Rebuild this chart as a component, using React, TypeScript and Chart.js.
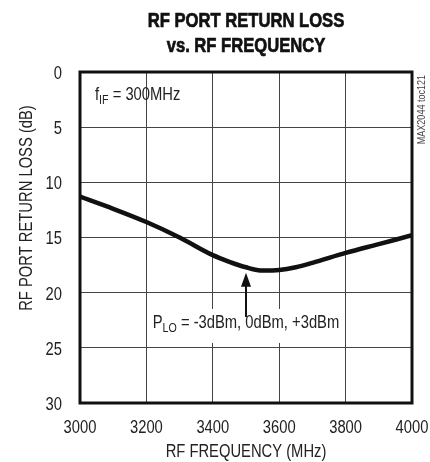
import React, { useEffect, useRef } from "react";
import { Chart, registerables } from "chart.js";

Chart.register(...registerables);

const freqs = [3000, 3100, 3200, 3300, 3400, 3450, 3500, 3550, 3600, 3650, 3700, 3800, 3900, 4000];
const returnLoss = [11.3, 12.4, 13.6, 15.0, 16.6, 17.2, 17.7, 18.0, 17.95, 17.7, 17.3, 16.4, 15.6, 14.8];
const xTicks = [3000, 3200, 3400, 3600, 3800, 4000];
const yTicks = [0, 5, 10, 15, 20, 25, 30];
const titleLines = ["RF PORT RETURN LOSS", "vs. RF FREQUENCY"];
const xTitle = "RF FREQUENCY (MHz)";
const yTitle = "RF PORT RETURN LOSS (dB)";
const arrowFreq = 3500;
const arrowTip = 18.2;
const arrowTail = 22.2;

const FAM = '"Liberation Sans", Arial, sans-serif';
const SX = 0.82;

type Part = { t: string; sub?: boolean };

function partsWidth(ctx: CanvasRenderingContext2D, parts: Part[], size: number) {
  let w = 0;
  for (const p of parts) {
    ctx.font = `${p.sub ? Math.round(size * 0.72) : size}px ${FAM}`;
    w += ctx.measureText(p.t).width;
  }
  return w * SX;
}

function drawParts(
  ctx: CanvasRenderingContext2D,
  parts: Part[],
  x: number,
  y: number,
  size: number,
  align: "left" | "center" | "right"
) {
  const total = partsWidth(ctx, parts, size);
  let cx = align === "center" ? x - total / 2 : align === "right" ? x - total : x;
  ctx.save();
  ctx.textAlign = "left";
  ctx.textBaseline = "middle";
  for (const p of parts) {
    ctx.font = `${p.sub ? Math.round(size * 0.72) : size}px ${FAM}`;
    ctx.save();
    ctx.translate(cx, p.sub ? y + size * 0.28 : y);
    ctx.scale(SX, 1);
    ctx.fillText(p.t, 0, 0);
    ctx.restore();
    cx += ctx.measureText(p.t).width * SX;
  }
  ctx.restore();
  return total;
}

const decorPlugin = {
  id: "decor",
  beforeDatasetsDraw(chart: any) {
    const ctx = chart.ctx as CanvasRenderingContext2D;
    const xs = chart.scales.x;
    const ys = chart.scales.y;
    const cx = xs.getPixelForValue(arrowFreq);
    const ty = ys.getPixelForValue(arrowTail) + 6;
    const parts: Part[] = [{ t: "P" }, { t: "LO", sub: true }, { t: " = -3dBm, 0dBm, +3dBm" }];
    ctx.save();
    const total = partsWidth(ctx, parts, 18);
    ctx.fillStyle = "#fff";
    ctx.fillRect(cx - total / 2 - 4, ty - 14, total + 8, 34);
    ctx.fillStyle = "#222";
    drawParts(ctx, parts, cx, ty, 18, "center");
    ctx.restore();
  },
  afterDraw(chart: any) {
    const ctx = chart.ctx as CanvasRenderingContext2D;
    const a = chart.chartArea;
    const xs = chart.scales.x;
    const ys = chart.scales.y;
    ctx.save();
    // frame
    ctx.strokeStyle = "#111";
    ctx.lineWidth = 3;
    ctx.strokeRect(a.left, a.top, a.right - a.left, a.bottom - a.top);

    // tick labels from the scales
    ctx.fillStyle = "#222";
    for (const t of xs.ticks) {
      drawParts(ctx, [{ t: String(t.value) }], xs.getPixelForValue(t.value), a.bottom + 25, 18, "center");
    }
    for (const t of ys.ticks) {
      drawParts(ctx, [{ t: String(t.value) }], a.left - 18, ys.getPixelForValue(t.value) + 2, 18, "right");
    }

    // title
    const tc = (a.left + a.right) / 2;
    ctx.fillStyle = "#111";
    ctx.strokeStyle = "#111";
    ctx.lineWidth = 0.7;
    ctx.textAlign = "center";
    ctx.textBaseline = "middle";
    ctx.font = `bold 20px ${FAM}`;
    titleLines.forEach((line, i) => {
      ctx.save();
      ctx.translate(tc, 21 + i * 25);
      ctx.scale(0.83, 1);
      ctx.fillText(line, 0, 0);
      ctx.strokeText(line, 0, 0);
      ctx.restore();
    });

    // x title
    ctx.fillStyle = "#222";
    drawParts(ctx, [{ t: xTitle }], tc, 452, 18, "center");

    // y title
    ctx.save();
    ctx.translate(27, 208);
    ctx.rotate(-Math.PI / 2);
    drawParts(ctx, [{ t: yTitle }], 0, 0, 18, "center");
    ctx.restore();

    // fIF
    drawParts(ctx, [{ t: "f" }, { t: "IF", sub: true }, { t: " = 300MHz" }], a.left + 15, 95, 18, "left");

    // side code
    ctx.save();
    ctx.translate(a.right + 4, a.top + 3);
    ctx.rotate(-Math.PI / 2);
    ctx.fillStyle = "#444";
    ctx.font = `11px ${FAM}`;
    ctx.textAlign = "right";
    ctx.textBaseline = "top";
    ctx.scale(SX, 1);
    ctx.fillText("MAX2044 toc121", 0, 0);
    ctx.restore();

    // arrow
    const ax = xs.getPixelForValue(arrowFreq);
    const tipY = ys.getPixelForValue(arrowTip);
    const tailY = ys.getPixelForValue(arrowTail);
    ctx.strokeStyle = "#111";
    ctx.lineWidth = 2;
    ctx.beginPath();
    ctx.moveTo(ax, tailY);
    ctx.lineTo(ax, tipY + 12);
    ctx.stroke();
    ctx.fillStyle = "#111";
    ctx.beginPath();
    ctx.moveTo(ax, tipY);
    ctx.lineTo(ax - 5, tipY + 14);
    ctx.lineTo(ax + 5, tipY + 14);
    ctx.closePath();
    ctx.fill();
    ctx.restore();
  },
};

export default function App() {
  const ref = useRef<HTMLCanvasElement>(null);
  useEffect(() => {
    document.body.style.margin = "0";
    const canvas = ref.current!;
    const chart = new Chart(canvas, {
      type: "line",
      data: {
        datasets: [
          {
            data: freqs.map((f, i) => ({ x: f, y: returnLoss[i] })),
            borderColor: "#111",
            borderWidth: 4.5,
            pointRadius: 0,
            tension: 0.4,
            cubicInterpolationMode: "monotone",
            fill: false,
          },
        ],
      },
      options: {
        animation: false,
        responsive: false,
        devicePixelRatio: 1,
        layout: { padding: { top: 72, right: 18, left: 0, bottom: 0 } },
        plugins: { legend: { display: false }, tooltip: { enabled: false }, title: { display: false } },
        scales: {
          x: {
            type: "linear",
            min: 3000,
            max: 4000,
            afterBuildTicks: (s: any) => { s.ticks = xTicks.map((v) => ({ value: v })); },
            afterFit: (s: any) => { s.height = 59; },
            grid: { color: "#444", lineWidth: 1, drawTicks: false },
            border: { display: false },
            ticks: { display: false },
          },
          y: {
            type: "linear",
            reverse: true,
            min: 0,
            max: 30,
            afterBuildTicks: (s: any) => { s.ticks = yTicks.map((v) => ({ value: v })); },
            afterFit: (s: any) => { s.width = 80; },
            grid: { color: "#444", lineWidth: 1, drawTicks: false },
            border: { display: false },
            ticks: { display: false },
          },
        },
      },
      plugins: [decorPlugin],
    } as any);
    return () => chart.destroy();
  }, []);
  return (
    <div style={{ width: 430, height: 462 }}>
      <canvas ref={ref} width={430} height={462} style={{ display: "block" }} />
    </div>
  );
}
